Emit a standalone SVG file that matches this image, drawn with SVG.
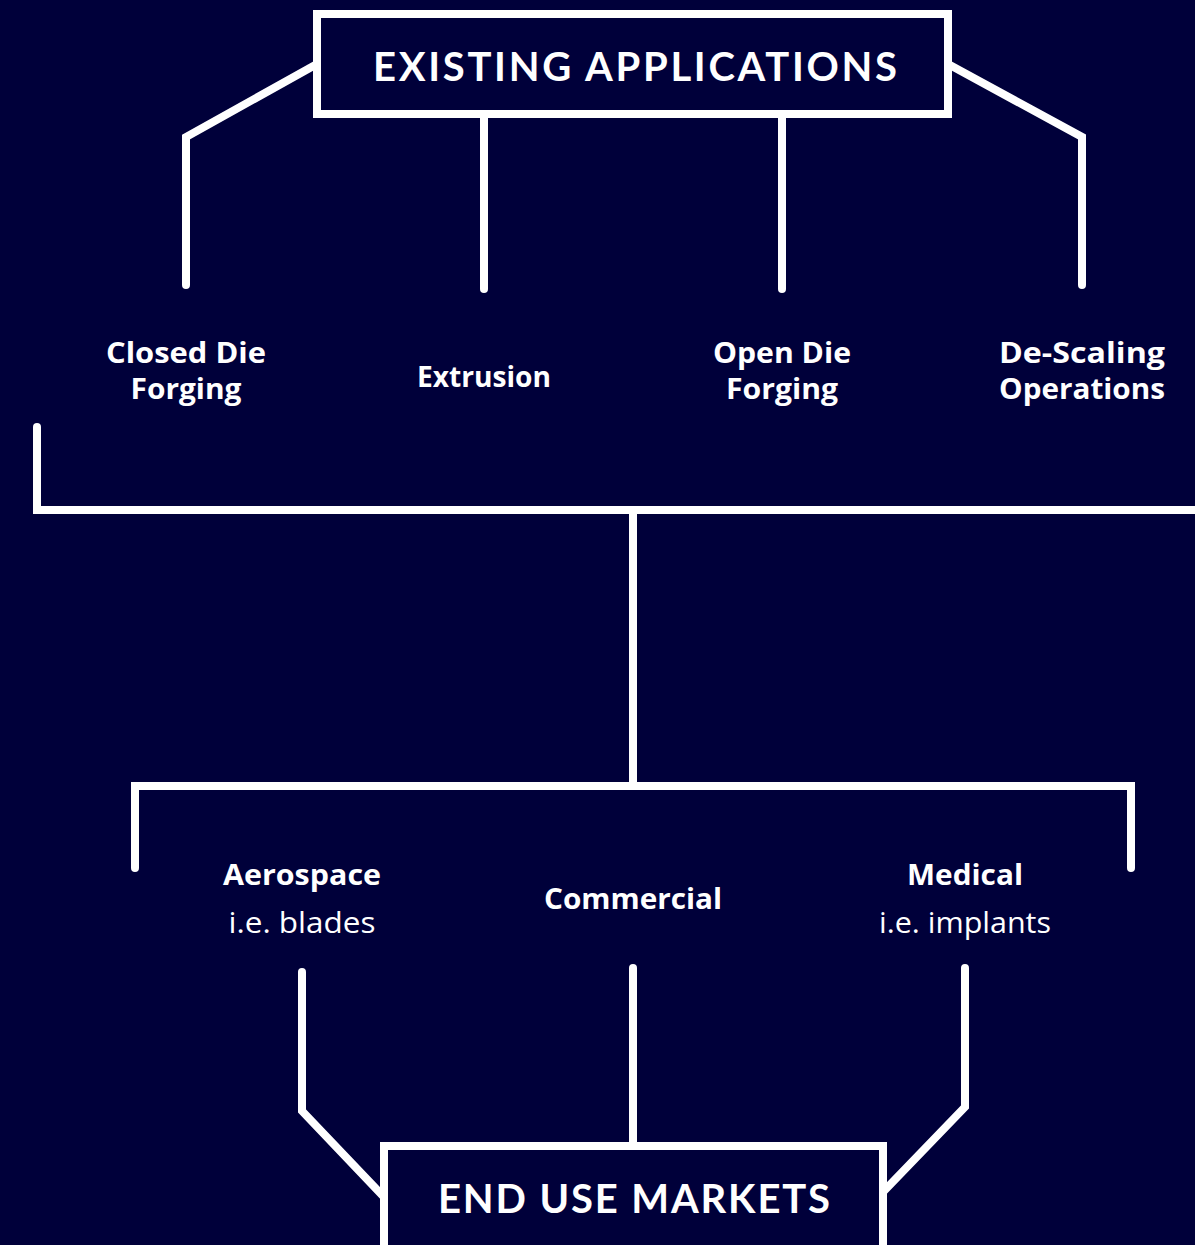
<svg xmlns="http://www.w3.org/2000/svg" width="1195" height="1245" viewBox="0 0 1195 1245">
<style>
.bg{fill:#00003a}
.box{fill:#00003a;stroke:#ffffff;stroke-width:8}
.ln{fill:none;stroke:#ffffff;stroke-width:8;stroke-linecap:round;stroke-linejoin:miter}
.h{font-family:Lato,"Liberation Sans",sans-serif;font-weight:700;font-size:40px;fill:#ffffff;text-anchor:middle}
.b{font-family:"Open Sans","Liberation Sans",sans-serif;font-weight:700;font-size:29px;fill:#ffffff;text-anchor:middle}
.r{font-family:"Open Sans","Liberation Sans",sans-serif;font-weight:400;font-size:29px;fill:#ffffff;text-anchor:middle}
</style>
<rect class="bg" x="0" y="0" width="1195" height="1245"/>
<g id="connectors">
<path class="ln" d="M317,64 L186,137 L186,285"/>
<path class="ln" d="M484,118 V289"/>
<path class="ln" d="M782,118 V289"/>
<path class="ln" d="M948,64 L1082,137 L1082,285"/>
<path class="ln" d="M37,427 V510 H1205" style="stroke-linecap:butt"/>
<path class="ln" d="M37,427 V440"/>
<path class="ln" d="M633,510 V786"/>
<path class="ln" d="M135,868 V786 H1131 V868"/>
<path class="ln" d="M302,972 V1111 L383,1196"/>
<path class="ln" d="M633,968 V1146"/>
<path class="ln" d="M965,968 V1107 L883,1192"/>
</g>
<g id="existing-applications">
<rect class="box" x="317" y="14" width="631" height="100"/>
<text class="h" x="635" y="81" textLength="524" lengthAdjust="spacing">EXISTING APPLICATIONS</text>
</g>
<g id="closed-die-forging">
<text class="b" x="186" y="363" textLength="160" lengthAdjust="spacingAndGlyphs">Closed Die</text>
<text class="b" x="186" y="399" textLength="111" lengthAdjust="spacingAndGlyphs">Forging</text>
</g>
<g id="extrusion">
<text class="b" x="484" y="387" textLength="134" lengthAdjust="spacingAndGlyphs">Extrusion</text>
</g>
<g id="open-die-forging">
<text class="b" x="782" y="363" textLength="138" lengthAdjust="spacingAndGlyphs">Open Die</text>
<text class="b" x="782" y="399" textLength="112" lengthAdjust="spacingAndGlyphs">Forging</text>
</g>
<g id="de-scaling-operations">
<text class="b" x="1082" y="363" textLength="166" lengthAdjust="spacingAndGlyphs">De-Scaling</text>
<text class="b" x="1082" y="399" textLength="166" lengthAdjust="spacingAndGlyphs">Operations</text>
</g>
<g id="aerospace">
<text class="b" x="302" y="885" textLength="158" lengthAdjust="spacingAndGlyphs">Aerospace</text>
<text class="r" x="302" y="933" textLength="147" lengthAdjust="spacingAndGlyphs">i.e. blades</text>
</g>
<g id="commercial">
<text class="b" x="633" y="909" textLength="178" lengthAdjust="spacingAndGlyphs">Commercial</text>
</g>
<g id="medical">
<text class="b" x="965" y="885" textLength="116" lengthAdjust="spacingAndGlyphs">Medical</text>
<text class="r" x="965" y="933" textLength="172" lengthAdjust="spacingAndGlyphs">i.e. implants</text>
</g>
<g id="end-use-markets">
<rect class="box" x="384" y="1146" width="499" height="120"/>
<text class="h" x="634" y="1213" textLength="392" lengthAdjust="spacing">END USE MARKETS</text>
</g>
</svg>
